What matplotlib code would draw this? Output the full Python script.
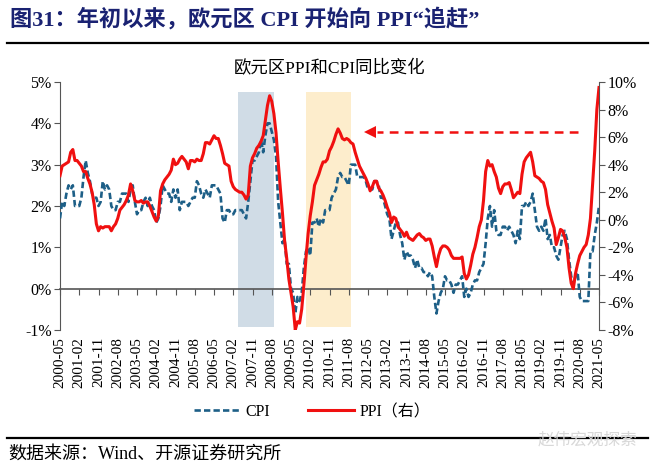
import matplotlib
matplotlib.use("Agg")
import matplotlib.pyplot as plt
import pandas as pd

plt.rcParams['font.family'] = ['Liberation Serif', 'Noto Sans CJK SC', 'DejaVu Sans']

# ---------------- data ----------------
months = [p.strftime('%Y-%m') for p in pd.period_range('2000-05', '2021-05', freq='M')]

cpi = [
    1.7, 2.1, 2.0, 2.3, 2.5, 2.4, 2.5, 2.0,                                   # 2000
    2.0, 2.0, 2.2, 2.7, 3.1, 2.8, 2.6, 2.3, 2.2, 2.2, 2.0, 2.1,               # 2001
    2.6, 2.4, 2.5, 2.4, 2.0, 1.9, 1.9, 2.1, 2.1, 2.3, 2.3, 2.3,               # 2002
    2.1, 2.4, 2.5, 2.1, 1.8, 1.9, 1.9, 2.1, 2.2, 2.0, 2.2, 2.0,               # 2003
    1.9, 1.6, 1.7, 2.0, 2.5, 2.4, 2.3, 2.3, 2.1, 2.4, 2.2, 2.4,               # 2004
    1.9, 2.1, 2.1, 2.1, 2.0, 2.1, 2.2, 2.2, 2.6, 2.5, 2.3, 2.2,               # 2005
    2.4, 2.3, 2.2, 2.5, 2.5, 2.5, 2.4, 2.3, 1.7, 1.6, 1.9, 1.9,               # 2006
    1.8, 1.8, 1.9, 1.9, 1.9, 1.9, 1.8, 1.7, 2.1, 2.6, 3.1, 3.1,               # 2007
    3.2, 3.3, 3.6, 3.3, 3.7, 4.0, 4.0, 3.8, 3.6, 3.2, 2.1, 1.6,               # 2008
    1.1, 1.2, 0.6, 0.6, 0.0, -0.1, -0.6, -0.2, -0.3, -0.1, 0.5, 0.9,          # 2009
    1.0, 0.8, 1.6, 1.6, 1.7, 1.5, 1.7, 1.6, 1.9, 1.9, 1.9, 2.2,               # 2010
    2.3, 2.4, 2.7, 2.8, 2.7, 2.7, 2.6, 2.5, 3.0, 3.0, 3.0, 2.7,               # 2011
    2.7, 2.7, 2.7, 2.6, 2.4, 2.4, 2.4, 2.6, 2.6, 2.5, 2.2, 2.2,               # 2012
    2.0, 1.8, 1.7, 1.2, 1.4, 1.6, 1.6, 1.3, 1.1, 0.7, 0.9, 0.8,               # 2013
    0.8, 0.7, 0.5, 0.7, 0.5, 0.5, 0.4, 0.4, 0.3, 0.4, 0.3, -0.2,              # 2014
    -0.6, -0.3, -0.1, 0.0, 0.3, 0.2, 0.2, 0.1, -0.1, 0.1, 0.1, 0.2,           # 2015
    0.3, -0.2, 0.0, -0.2, -0.1, 0.1, 0.2, 0.2, 0.4, 0.5, 0.6, 1.1,            # 2016
    1.7, 2.0, 1.5, 1.9, 1.4, 1.3, 1.3, 1.5, 1.5, 1.4, 1.5, 1.4,               # 2017
    1.3, 1.1, 1.4, 1.2, 2.0, 2.0, 2.1, 2.0, 2.1, 2.3, 1.9, 1.5,               # 2018
    1.4, 1.5, 1.4, 1.7, 1.2, 1.3, 1.0, 1.0, 0.8, 0.7, 1.0, 1.3,               # 2019
    1.4, 1.2, 0.7, 0.3, 0.1, 0.3, 0.4, -0.2, -0.3, -0.3, -0.3, -0.3,          # 2020
    0.9, 0.9, 1.3, 1.6, 2.0,                                                  # 2021
]

ppi = [
    3.2, 3.9, 4.0, 4.1, 4.2, 4.9, 5.1, 4.3,                                   # 2000
    4.3, 4.1, 3.9, 3.5, 3.5, 3.0, 2.6, 2.0, 1.1, -0.3, -0.8, -0.5,            # 2001
    -0.6, -0.5, -0.5, -0.5, -0.8, -0.5, -0.3, 0.1, 0.7, 0.9, 1.1, 1.4,        # 2002
    1.8, 2.6, 2.1, 1.4, 1.3, 1.3, 1.4, 1.2, 1.3, 1.3, 1.0, 0.6,               # 2003
    0.2, -0.1, 0.3, 2.1, 2.6, 2.9, 3.1, 3.3, 3.6, 4.4, 4.0, 4.1,              # 2004
    4.4, 4.6, 4.4, 4.2, 3.7, 4.3, 4.3, 4.2, 4.4, 4.3, 4.3, 4.8,               # 2005
    5.6, 5.6, 5.5, 5.8, 6.1, 5.9, 5.9, 5.4, 4.8, 4.1, 4.0, 3.9,               # 2006
    2.8, 2.4, 2.2, 2.1, 2.0, 2.0, 1.8, 1.5, 1.8, 3.9, 4.5, 4.8,               # 2007
    5.2, 5.4, 5.7, 6.1, 7.2, 8.3, 9.0, 8.6, 7.7, 6.3, 4.2, 2.3,               # 2008
    0.5, -1.5, -2.8, -4.3, -5.3, -6.3, -8.0, -7.4, -7.5, -6.5, -4.8, -2.8,    # 2009
    -1.0, 0.3, 1.3, 2.5, 2.9, 3.3, 3.8, 4.2, 4.2, 4.4, 5.0, 5.3,              # 2010
    5.7, 6.2, 6.6, 6.3, 5.9, 5.8, 5.9, 5.8, 5.6, 5.5, 4.9, 4.4,               # 2011
    3.9, 3.6, 3.3, 3.0, 2.6, 2.1, 2.4, 2.8, 2.8, 2.3, 2.1, 1.8,               # 2012
    1.4, 0.9, 0.5, -0.2, 0.2, 0.1, -0.5, -0.7, -0.9, -1.2, -0.9, -1.3,        # 2013
    -1.4, -1.5, -1.3, -1.1, -1.0, -1.2, -1.3, -1.5, -1.4, -1.4, -1.9, -2.7,   # 2014
    -3.4, -2.6, -2.1, -1.9, -1.9, -2.0, -2.2, -2.6, -2.8, -2.8, -2.8, -2.8,   # 2015
    -2.7, -3.9, -4.3, -4.0, -3.3, -2.5, -2.0, -1.3, -0.5, 0.0, 1.4, 3.5,      # 2016
    4.3, 3.9, 4.0, 3.5, 3.1, 2.3, 1.9, 2.4, 2.6, 2.6, 2.7, 2.2,               # 2017
    1.6, 1.8, 2.0, 1.9, 3.3, 4.2, 4.5, 4.7, 4.9, 4.2, 3.2, 3.1,               # 2018
    3.0, 2.8, 2.7, 2.2, 1.1, 0.5, -0.1, -0.6, -1.8, -1.3, -0.7, -0.8,         # 2019
    -1.3, -2.0, -3.5, -4.6, -5.0, -3.9, -3.2, -2.6, -2.3, -2.0, -1.8, -1.1,   # 2020
    0.1, 2.5, 5.0, 8.0, 9.6,                                                  # 2021
]

tick_labels = months[::9]
left_ticks = [5, 4, 3, 2, 1, 0, -1]
right_ticks = [10, 8, 6, 4, 2, 0, -2, -4, -6, -8]

shade_periods = [('2007-04', '2008-09', '#d0dce6'), ('2009-12', '2011-09', '#fdedcc')]
arrow_from, arrow_to, arrow_level = '2020-07', '2012-06', 6.4

header = '图31：年初以来，欧元区 CPI 开始向 PPI“追赶”'
chart_title = '欧元区PPI和CPI同比变化'
source = '数据来源：Wind、开源证券研究所'
watermark = '赵伟宏观探索'

# ---------------- figure ----------------
W, H = 655, 469
fig = plt.figure(figsize=(W / 100, H / 100), dpi=100)
fig.patch.set_facecolor('white')

L, R, T, B = 60, 599, 82, 330
ax = fig.add_axes([L / W, 1 - B / H, (R - L) / W, (B - T) / H])
ax2 = ax.twinx()

x = list(range(len(months)))
idx = {m: i for i, m in enumerate(months)}

for s, e, c in shade_periods:
    ax.axvspan(idx[s], idx[e], ymin=0.012, ymax=0.96, color=c, lw=0, zorder=0)

cpi_line, = ax.plot(x, cpi, color='#1d5f87', lw=1.9, dashes=[2.4, 1.2], zorder=3,
                    label='CPI')
ppi_line, = ax2.plot(x, ppi, color='#f01010', lw=2.2, zorder=4, label='PPI（右）')

# arrow (dashed shaft + solid head)
ax2.plot([idx[arrow_from], idx[arrow_to] + 3], [arrow_level, arrow_level],
         color='#f01010', lw=1.8, dashes=[3.5, 2.5])
ax2.plot([idx[arrow_to]], [arrow_level], marker='<', color='#f01010', ms=9, mew=0)

ax.set_xlim(0, len(months) - 1)
ax.set_ylim(-1, 5)
ax2.set_ylim(-8, 10)

ax.set_yticks(left_ticks)
ax.set_yticklabels([f'{v}%' for v in left_ticks])
ax2.set_yticks(right_ticks)
ax2.set_yticklabels([f'{v}%' for v in right_ticks])

tick_pos = [idx[t] for t in tick_labels]
ax.set_xticks(tick_pos)
ax.set_xticklabels(tick_labels, rotation=90)
ax.tick_params(axis='x', length=0, pad=5, labelsize=11)

spine_col = '#555555'
for a in (ax, ax2):
    a.spines['top'].set_visible(False)
    a.spines['bottom'].set_visible(False)
ax.spines['right'].set_visible(False)
ax2.spines['left'].set_visible(False)
ax.spines['left'].set_color(spine_col)
ax2.spines['right'].set_color(spine_col)
ax.tick_params(axis='y', direction='out', length=4, color=spine_col, labelsize=11.5, pad=2)
ax2.tick_params(axis='y', direction='out', length=4, color=spine_col, labelsize=11.5, pad=2)

# category axis line crossing at 0%
sec = ax.secondary_xaxis(1 / 6)
sec.set_xticks(tick_pos)
sec.set_xticklabels([])
sec.tick_params(direction='out', length=4, color=spine_col)
sec.spines['bottom'].set_color(spine_col)
sec.spines['bottom'].set_linewidth(1.2)

# texts
fig.text(10 / W, 1 - 19 / H, header, fontsize=16, fontweight='bold', color='#1a2272',
         va='center', ha='left')
fig.add_artist(plt.Line2D([7 / W, 648 / W], [1 - 43 / H, 1 - 43 / H], color='black', lw=1.6))
fig.text(330 / W, 1 - 69 / H, chart_title, fontsize=12.5, ha='center', va='center')

fig.legend(handles=[cpi_line, ppi_line], loc='center', bbox_to_anchor=(312 / W, 1 - 412 / H),
           ncol=2, frameon=False, fontsize=11.5, handlelength=2.9, columnspacing=2.4,
           handletextpad=0.3)

fig.add_artist(plt.Line2D([7 / W, 648 / W], [1 - 438 / H, 1 - 438 / H], color='black', lw=1.6))
fig.text(8 / W, 1 - 454 / H, source, fontsize=13, ha='left', va='center')
fig.text(538 / W, 1 - 440 / H, watermark, fontsize=12, ha='left', va='center',
         color='#d8d8d8', family=['Noto Sans CJK SC'])

fig.savefig('out.png', dpi=100)
